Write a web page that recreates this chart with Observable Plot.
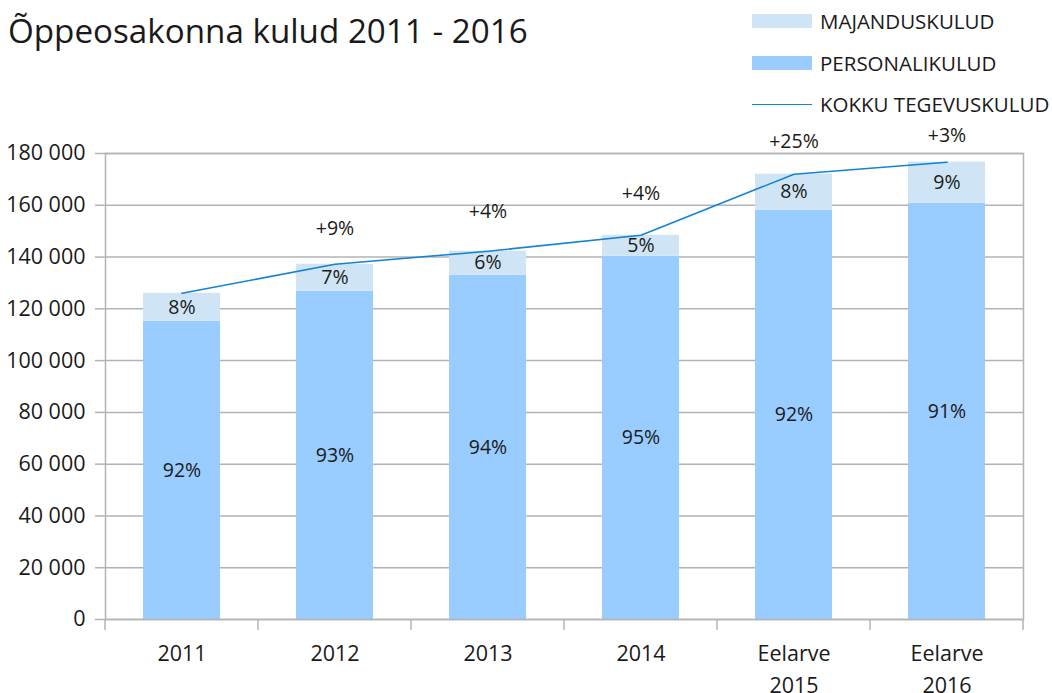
<!DOCTYPE html>
<html><head><meta charset="utf-8">
<script src="https://cdn.jsdelivr.net/npm/d3@7"></script>
<script src="https://cdn.jsdelivr.net/npm/@observablehq/plot@0.6"></script>
<style>
body{margin:0;background:#fff;font-family:"Open Sans",sans-serif;color:#1a1a1a}
#wrap{position:relative;width:1052px;height:693px;overflow:hidden}
#chart{position:absolute;left:0;top:0}
#title{position:absolute;left:8px;top:11px;font-size:33.2px;line-height:40px;white-space:nowrap}
.leg{position:absolute;left:752px;height:24px;display:flex;align-items:center;font-size:20.5px;white-space:nowrap}
.sw{width:60px;height:14px;margin-right:8px}
.ln{width:60px;height:0;border-top:1.6px solid #1383d4;margin-right:8px}
</style></head>
<body><div id="wrap">
<div id="chart"></div>
<div id="title">Õppeosakonna kulud 2011 - 2016</div>
<div class="leg" style="top:9px"><div class="sw" style="background:#cfe5f5"></div>MAJANDUSKULUD</div>
<div class="leg" style="top:51px"><div class="sw" style="background:#99ccff"></div>PERSONALIKULUD</div>
<div class="leg" style="top:92px"><div class="ln"></div>KOKKU TEGEVUSKULUD</div>
</div>
<script>
const categories = ["2011","2012","2013","2014","Eelarve 2015","Eelarve 2016"];
const personalikulud = [115200,126800,133000,140300,158100,160800];
const majanduskulud = [10800,10400,9250,8100,13900,15850];
const personalPct = ["92%","93%","94%","95%","92%","91%"];
const majandusPct = ["8%","7%","6%","5%","8%","9%"];
const kasvLabels = ["","+9%","+4%","+4%","+25%","+3%"];
const kasvLabelY = [null,150750,157450,164550,184500,186700];
const yTicks = [0,20000,40000,60000,80000,100000,120000,140000,160000,180000];

const colPersonal = "#99ccff", colMajandus = "#cfe5f5", colLine = "#1383d4", grid = "#b3b3b3";

const rows = [];
categories.forEach((c,i)=>{
  rows.push({cat:c, type:"PERSONALIKULUD", value:personalikulud[i], label:personalPct[i]});
  rows.push({cat:c, type:"MAJANDUSKULUD", value:majanduskulud[i], label:majandusPct[i]});
});
const totals = categories.map((c,i)=>({cat:c, total:personalikulud[i]+majanduskulud[i]}));
const kasv = categories.map((c,i)=>({cat:c, y:kasvLabelY[i], text:kasvLabels[i]})).filter(d=>d.text);

const fmt = d => d3.format(",")(d).replace(/,/g," ");

function xBoundaryTicks(index, scales, values, dims) {
  const {width, height, marginLeft, marginRight, marginBottom} = dims;
  const step = (width - marginLeft - marginRight) / categories.length;
  const y0 = height - marginBottom;
  const g = d3.create("svg:g");
  for (let i = 0; i <= categories.length; i++) {
    const x = marginLeft + i * step;
    g.append("line").attr("x1",x).attr("x2",x).attr("y1",y0).attr("y2",y0+11)
      .attr("stroke",grid).attr("stroke-width",1.5);
  }
  return g.node();
}

const chart = Plot.plot({
  width:1052, height:693,
  marginLeft:105, marginRight:29, marginTop:153, marginBottom:74,
  style:{fontFamily:"'Open Sans', sans-serif", background:"#fff", color:"#1a1a1a"},
  x:{domain:categories, paddingInner:0.5, paddingOuter:0.25, label:null},
  y:{domain:[0,180000], label:null},
  color:{domain:["PERSONALIKULUD","MAJANDUSKULUD"], range:[colPersonal,colMajandus]},
  marks:[
    Plot.gridY(yTicks,{stroke:grid, strokeOpacity:1, strokeWidth:1.5}),
    Plot.barY(rows,{x:"cat", y:"value", fill:"type"}),
    Plot.frame({stroke:grid, strokeWidth:1.5}),
    Plot.axisY(yTicks,{tickSize:10, tickPadding:10, tickFormat:fmt, fontSize:21.5, color:"#1a1a1a", stroke:grid, strokeWidth:1.5, label:null}),
    Plot.axisX({tickSize:0, tickPadding:19, tickFormat:d=>d.replace(" ","\n"), fontSize:21.5, lineHeight:1.47, label:null}),
    xBoundaryTicks,
    Plot.text(rows, Plot.stackY({x:"cat", y:"value", text:"label", fontSize:19.5, fill:"#1a1a1a"})),
    Plot.line(totals,{x:"cat", y:"total", stroke:colLine, strokeWidth:1.6}),
    Plot.text(kasv,{x:"cat", y:"y", text:"text", fontSize:19.5, fill:"#1a1a1a"})
  ]
});
document.getElementById("chart").append(chart);
</script>
</body></html>
